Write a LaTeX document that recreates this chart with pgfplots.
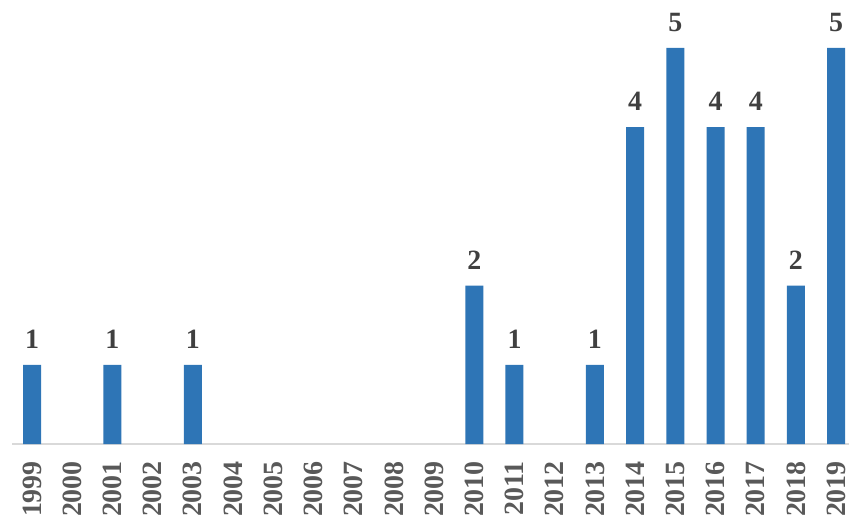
\documentclass[border=0pt]{standalone}
\usepackage{fontspec}
\setmainfont{Liberation Serif}
\usepackage{pgfplots}
\pgfplotsset{compat=1.18}
\usetikzlibrary{calc}
\definecolor{barblue}{HTML}{2E75B6}
\definecolor{axgray}{HTML}{D9D9D9}
\definecolor{ticktext}{HTML}{595959}
\definecolor{labtext}{HTML}{404040}
\begin{document}
\begin{tikzpicture}
\begin{axis}[
  name=ax,
  scale only axis,
  width=837bp, height=444bp,
  xmin=-0.4975, xmax=20.32,
  ymin=0, ymax=5.606,
  axis x line*=bottom,
  axis y line=none,
  x axis line style={draw=axgray, line width=1.3bp, -},
  xtick={0,...,20},
  xticklabels={1999,2000,2001,2002,2003,2004,2005,2006,2007,2008,2009,2010,2011,2012,2013,2014,2015,2016,2017,2018,2019},
  major tick length=0pt,
  xticklabel shift=17bp,
  xticklabel style={rotate=90, anchor=east, inner sep=0pt, text=ticktext, font=\bfseries\fontsize{28}{28}\selectfont},
  ytick=\empty,
  clip=false,
  /pgf/number format/assume math mode=true,
]
\addplot[ybar, bar width=18bp, fill=barblue, draw=none,
  nodes near coords={\pgfmathprintnumber[assume math mode=true]{\pgfplotspointmeta}},
  every node near coord/.append style={anchor=south, inner sep=0pt, yshift=16bp, text=labtext, font=\bfseries\fontsize{28}{28}\selectfont}]
coordinates {(0,1) (2,1) (4,1) (11,2) (12,1) (14,1) (15,4) (16,5) (17,4) (18,4) (19,2) (20,5)};
\end{axis}
\pgfresetboundingbox
\path[use as bounding box] ($(ax.south west)+(-12bp,-84bp)$) rectangle ($(ax.north east)+(0bp,0bp)$);
\end{tikzpicture}
\end{document}
